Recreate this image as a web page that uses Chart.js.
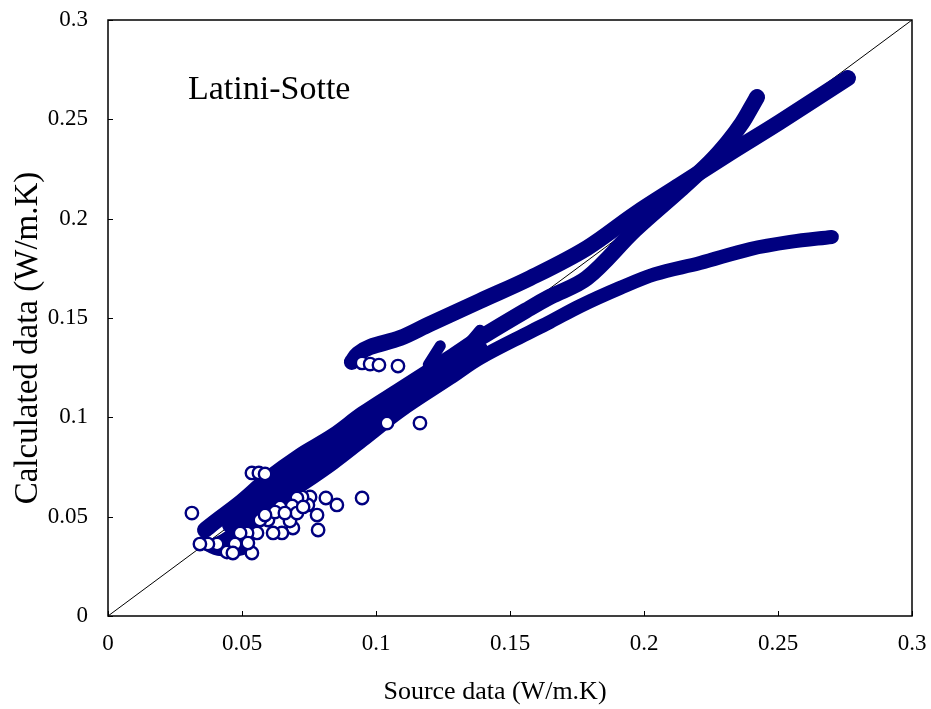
<!DOCTYPE html>
<html>
<head>
<meta charset="utf-8">
<script src="https://cdn.jsdelivr.net/npm/chart.js"></script>
<style>
  html, body { margin: 0; padding: 0; background: #fff; }
  #wrap { width: 931px; height: 709px; }
</style>
</head>
<body>
<div id="wrap"><canvas id="chart" width="931" height="709"></canvas></div>
<script>
// texts
const chartTitle = 'Latini-Sotte';
const xTitle = 'Source data (W/m.K)';
const yTitle = 'Calculated data (W/m.K)';
const tickValues = [0, 0.05, 0.1, 0.15, 0.2, 0.25, 0.3];

// y = x reference line
const diagX = [0, 0.3];
const diagY = [0, 0.3];

// dense bands of points
const bandAX = [0.0910, 0.0933, 0.0978, 0.1090, 0.1201, 0.1388, 0.1575, 0.1787, 0.1966, 0.2134, 0.2321, 0.2507, 0.2761];
const bandAY = [0.1279, 0.1319, 0.1354, 0.1399, 0.1470, 0.1586, 0.1701, 0.1852, 0.2023, 0.2169, 0.2331, 0.2487, 0.2708];

const bandBX = [0.0362, 0.0399, 0.0493, 0.0593, 0.0716, 0.0840, 0.0951, 0.1090, 0.1276, 0.1388, 0.1575, 0.1649, 0.1787, 0.1966, 0.2134, 0.2246, 0.2313, 0.2366, 0.2403, 0.2422];
const bandBY = [0.0433, 0.0473, 0.0569, 0.0685, 0.0805, 0.0906, 0.1017, 0.1138, 0.1299, 0.1399, 0.1550, 0.1606, 0.1701, 0.1943, 0.2144, 0.2285, 0.2386, 0.2482, 0.2567, 0.2612];

const bandMX = [0.0455, 0.0593, 0.0716, 0.0840, 0.0951, 0.1090, 0.1276, 0.1388];
const bandMY = [0.0458, 0.0614, 0.0730, 0.0836, 0.0951, 0.1087, 0.1248, 0.1344];

const bandCX = [0.0399, 0.0437, 0.0530, 0.0593, 0.0716, 0.0840, 0.0951, 0.1090, 0.1276, 0.1388, 0.1575, 0.1649, 0.1761, 0.1910, 0.2041, 0.2209, 0.2396, 0.2545, 0.2701];
const bandCY = [0.0357, 0.0383, 0.0473, 0.0544, 0.0654, 0.0770, 0.0886, 0.1032, 0.1198, 0.1299, 0.1430, 0.1480, 0.1560, 0.1651, 0.1721, 0.1777, 0.1847, 0.1883, 0.1908];

// short bumps on the upper edge of the main band (null = break)
const finX = [0.1195, 0.1240, null, 0.1355, 0.1388];
const finY = [0.1265, 0.1360, null, 0.1385, 0.1438];

// low dense patch at the start of the bands
const footX = [0.0355, 0.0400, 0.0460, 0.0500];
const footY = [0.0372, 0.0340, 0.0330, 0.0338];

// scattered single points
const looseX = [0.0313, 0.0948, 0.0854, 0.0813, 0.0784, 0.0780, 0.0754, 0.0746, 0.0724, 0.0705, 0.0687, 0.0690, 0.0679,
  0.0649, 0.0616, 0.0597, 0.0567, 0.0556, 0.0519, 0.0493, 0.0537, 0.0522, 0.0474, 0.0444, 0.0466, 0.0407, 0.0373, 0.0343,
  0.0705, 0.0728, 0.0642, 0.0623, 0.0660, 0.0586, 0.1041, 0.1164, 0.0948, 0.0978, 0.1011, 0.1082, 0.0537, 0.0563, 0.0586];
const looseY = [0.0518, 0.0594, 0.0559, 0.0594, 0.0433, 0.0508, 0.0599, 0.0559, 0.0599, 0.0594, 0.0554, 0.0443, 0.0478,
  0.0418, 0.0418, 0.0483, 0.0483, 0.0418, 0.0418, 0.0418, 0.0317, 0.0367, 0.0362, 0.0322, 0.0317, 0.0362, 0.0362, 0.0362,
  0.0518, 0.0549, 0.0549, 0.0523, 0.0518, 0.0508, 0.0971, 0.0971, 0.1274, 0.1268, 0.1263, 0.1258, 0.0720, 0.0720, 0.0715];

const navy = '#000080';
const serif = '"Liberation Serif", "Times New Roman", serif';
const pts = (xs, ys) => xs.map((x, i) => ({ x: x, y: ys[i] }));

function band(xs, ys, w) {
  return {
    data: pts(xs, ys), showLine: true, borderColor: navy, borderWidth: w,
    borderCapStyle: 'round', borderJoinStyle: 'round', tension: 0.35,
    pointRadius: 0, spanGaps: false, order: 5
  };
}

const framePlugin = {
  id: 'frame',
  afterDraw(chart) {
    const ctx = chart.ctx, a = chart.chartArea;
    const xs = chart.scales.x, ys = chart.scales.y;
    ctx.save();
    ctx.strokeStyle = '#000';
    ctx.lineWidth = 1.5;
    ctx.strokeRect(a.left, a.top, a.right - a.left, a.bottom - a.top);
    ctx.lineWidth = 1;
    ctx.beginPath();
    tickValues.forEach(v => {
      const px = Math.round(xs.getPixelForValue(v)) + 0.5;
      ctx.moveTo(px, a.bottom); ctx.lineTo(px, a.bottom - 5);
      const py = Math.round(ys.getPixelForValue(v)) + 0.5;
      ctx.moveTo(a.left, py); ctx.lineTo(a.left + 5, py);
    });
    ctx.stroke();

    ctx.fillStyle = '#000';
    ctx.textBaseline = 'alphabetic';
    ctx.textAlign = 'left';
    ctx.font = '34px ' + serif;
    ctx.fillText(chartTitle, a.left + 80, 99);

    ctx.textAlign = 'center';
    ctx.font = '26px ' + serif;
    ctx.fillText(xTitle, 495, 699);

    ctx.translate(37, 338);
    ctx.rotate(-Math.PI / 2);
    ctx.font = '33px ' + serif;
    ctx.fillText(yTitle, 0, 0);
    ctx.restore();
  }
};

const tickOpts = (pad) => ({
  padding: pad, color: '#000',
  font: { family: serif, size: 23 },
  callback: v => String(+Number(v).toFixed(2))
});

new Chart(document.getElementById('chart'), {
  type: 'scatter',
  data: {
    datasets: [
      { data: pts(looseX, looseY), pointRadius: 6.2, pointBorderWidth: 2.4, borderColor: navy,
        pointBackgroundColor: '#fff', backgroundColor: '#fff', order: 1 },
      band(footX, footY, 13),
      band(finX, finY, 11),
      band(bandCX, bandCY, 14),
      band(bandMX, bandMY, 16),
      band(bandBX, bandBY, 16),
      band(bandAX, bandAY, 16),
      { data: pts(diagX, diagY), showLine: true, borderColor: '#000', borderWidth: 1,
        pointRadius: 0, order: 10 }
    ]
  },
  options: {
    responsive: false,
    animation: false,
    devicePixelRatio: 1,
    layout: { padding: { top: 20, right: 19, bottom: 0, left: 0 } },
    plugins: { legend: { display: false }, tooltip: { enabled: false } },
    scales: {
      x: {
        type: 'linear', min: 0, max: 0.3,
        afterBuildTicks: s => { s.ticks = tickValues.map(v => ({ value: v })); },
        afterFit: s => { s.height = 93; s.paddingLeft = 0; s.paddingRight = 0; },
        grid: { display: false, drawTicks: false },
        border: { display: false },
        ticks: tickOpts(14)
      },
      y: {
        type: 'linear', min: 0, max: 0.3,
        afterBuildTicks: s => { s.ticks = tickValues.map(v => ({ value: v })); },
        afterFit: s => { s.width = 108; s.paddingTop = 0; s.paddingBottom = 0; },
        grid: { display: false, drawTicks: false },
        border: { display: false },
        ticks: tickOpts(20)
      }
    }
  },
  plugins: [framePlugin]
});
</script>
</body>
</html>
